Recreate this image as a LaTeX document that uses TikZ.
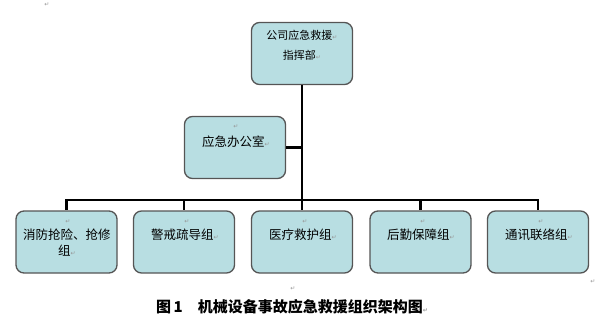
\documentclass[tikz,border=0pt]{standalone}
\usepackage{fontspec}
\newfontfamily\cjk{Noto Sans CJK SC}
\newfontfamily\dvs{DejaVu Sans}
\definecolor{boxfill}{RGB}{184,222,226}
\definecolor{boxline}{RGB}{85,85,85}
\definecolor{retgray}{RGB}{150,150,150}
\newcommand\retmark{{\dvs\fontsize{6}{6}\selectfont\textcolor{retgray}{↵}}}
\tikzset{
  orgbox/.style={draw=boxline, line width=1.3pt, fill=boxfill, rounded corners=8pt,
    minimum width=101pt, minimum height=62pt, inner sep=0pt},
  conn/.style={line width=2.6pt, black},
  lbl/.style={font=\cjk\fontsize{12.5}{15}\selectfont, inner sep=0pt, anchor=center},
  toplbl/.style={font=\cjk\fontsize{11}{13}\selectfont, inner sep=0pt, anchor=center},
  retnode/.style={inner sep=0pt, anchor=center},
  caption/.style={font=\cjk\bfseries\fontsize{15}{18}\selectfont, inner sep=0pt, anchor=center}
}
\begin{document}
\begin{tikzpicture}[x=1pt,y=-1pt]
\useasboundingbox (0,0) rectangle (600,321);
% boxes
\node[orgbox] (top) at (302,53.5) {};
\node[orgbox] (off) at (235,147.5) {};
\node[orgbox] (g1) at (66.5,242) {};
\node[orgbox] (g2) at (184,242) {};
\node[orgbox] (g3) at (302,242) {};
\node[orgbox] (g4) at (420.5,242) {};
\node[orgbox] (g5) at (538,242) {};
% connectors
\coordinate (bar) at (302,200);
\draw[conn] (top.south) -- (bar);
\draw[conn] (off.east) -- (off.east -| top.south);
\draw[conn] ([xshift=-1.3pt]g1.north |- bar) -- ([xshift=1.3pt]g5.north |- bar);
\draw[conn] (g1.north |- bar) -- (g1.north);
\draw[conn] (g2.north |- bar) -- (g2.north);
\draw[conn] (bar) -- (g3.north);
\draw[conn] (g4.north |- bar) -- (g4.north);
\draw[conn] (g5.north |- bar) -- (g5.north);
% texts
\node[toplbl] (tt1) at (302,35) {公司应急救援\retmark};
\node[toplbl] (tt2) at (302,55) {指挥部\retmark};
\node[retnode] (om) at (236,127) {\retmark};
\node[lbl] (ot) at (236,142) {应急办公室\retmark};
\node[retnode] (m1) at (68,222) {\retmark};
\node[lbl] (t1a) at (67,235) {消防抢险、抢修};
\node[lbl] (t1b) at (67,251) {组\retmark};
\node[retnode] (m2) at (187,222) {\retmark};
\node[lbl] (t2) at (185,235) {警戒疏导组\retmark};
\node[retnode] (m3) at (305,222) {\retmark};
\node[lbl] (t3) at (303,235) {医疗救护组\retmark};
\node[retnode] (m4) at (423,222) {\retmark};
\node[lbl] (t4) at (421,235) {后勤保障组\retmark};
\node[retnode] (m5) at (541,222) {\retmark};
\node[lbl] (t5) at (539,235) {通讯联络组\retmark};
% paragraph marks outside
\node[retnode] (r0) at (47,5) {\retmark};
\node[retnode] (r1) at (593,282) {\retmark};
\node[retnode] (r2) at (293,289) {\retmark};
% caption
\node[caption] (cap) at (292,307) {图\,1\hspace{1em}机械设备事故应急救援组织架构图\retmark};
\end{tikzpicture}
\end{document}
